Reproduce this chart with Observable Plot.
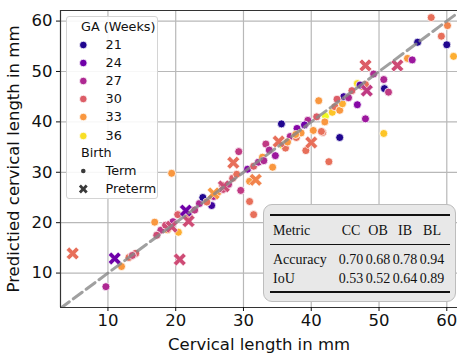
<!DOCTYPE html>
<html><head><meta charset="utf-8">
<script src="https://cdn.jsdelivr.net/npm/d3@7"></script>
<script src="https://cdn.jsdelivr.net/npm/@observablehq/plot@0.6"></script>
<style>
body{margin:0;background:#fff;font-family:"DejaVu Sans",sans-serif}
#wrap{position:relative;width:457px;height:353px;overflow:hidden}
.abs{position:absolute;white-space:nowrap}
#legend{position:absolute;left:66px;top:16px;width:92px;height:183px;border:1px solid #d4d4d4;border-radius:3px;background:rgba(255,255,255,0.88);box-sizing:border-box}
.lg{font-family:"DejaVu Sans",sans-serif;font-size:12.8px;color:#111;line-height:1;transform:translateY(-50%)}
#tbl{position:absolute;left:263px;top:204px;width:193px;height:98px;background:#e8e8e8;border:1.5px solid #bdbdbd;border-radius:9px;box-sizing:border-box}
.tt{font-family:"Liberation Serif",serif;font-size:14px;color:#111;line-height:1;transform:translateY(-50%)}
.tc{transform:translate(-50%,-50%)}
.rule{position:absolute;background:#111}
</style></head><body><div id="wrap"></div>
<script>
// Term births: cervical length (x), predicted (y), GA weeks
const termX=[9.7,12.0,13.1,14.1,13.6,16.9,19.4,18.8,20.4,17.8,18.5,17.2,19.6,20.3,22.0,22.8,23.5,24.0,25.3,24.6,25.6,26.2,26.9,27.8,28.4,29.6,29.3,30.6,30.9,30.9,31.5,31.5,32.2,32.8,33.0,33.3,34.3,34.7,35.8,35.6,36.2,36.9,37.8,37.9,38.5,39.2,39.5,40.3,40.8,41.1,41.7,42.1,43.1,42.6,42.0,43.5,44.2,44.6,44.8,44.2,45.5,46.0,46.8,46.8,47.5,48.0,48.0,47.2,50.7,50.7,50.8,51.4,49.2,54.2,54.9,55.7,57.7,59.2,60.0,60.1,61.0,37.7,41.5,27.0,29.0,33.8,36.5,39.0,43.8];
const termY=[7.3,11.3,13.1,13.9,13.5,20.1,29.8,18.6,18.1,18.5,19.5,17.5,20.2,21.6,21.3,22.5,23.8,25.0,23.4,24.1,25.2,26.0,27.4,27.6,28.8,26.4,34.1,30.6,28.2,24.2,21.6,31.2,32.0,33.0,32.3,35.6,31.0,33.3,35.3,39.6,34.8,37.1,36.9,38.7,37.8,34.3,40.3,38.3,41.0,44.2,37.9,41.1,41.9,32.1,40.0,43.0,42.3,43.6,45.0,36.9,44.8,46.2,43.4,47.6,47.0,47.4,40.6,47.3,37.7,48.4,46.6,45.9,49.5,52.6,52.3,55.8,60.7,57.0,55.3,59.1,53.0,37.5,38.1,26.6,29.6,34.4,36.0,39.4,44.5];
const termGA=[27,33,31,30,29,33,33,33,34,28,29,29,27,30,31,28,27,21,22,31,27,33,30,28,30,28,28,25,33,31,31,30,27,33,27,28,33,26,37,21,31,27,31,25,33,31,27,33,30,33,31,37,35,31,33,31,33,34,22,21,27,30,25,36,32,31,26,23,35,27,21,28,27,33,26,21,31,31,21,32,34,33,31,29,31,27,33,24,30];
// Preterm births
const preX=[4.8,11.0,20.6,21.5,21.9,19.4,28.5,27.1,25.6,35.2,31.8,40.0,48.0,52.7,48.2];
const preY=[13.9,12.9,12.7,22.4,20.3,19.2,31.9,27.2,25.8,36.1,28.5,35.9,51.2,51.2,46.2];
const preGA=[31,24,29,24,29,29,31,29,33,31,32,31,30,29,28];
// Axis ticks, legend and table content
const xTicks=[10,20,30,40,50,60];
const yTicks=[10,20,30,40,50,60];
const legendGA=[21,24,27,30,33,36];
const birthLabels=["Term","Preterm"];
const metricCols=["CC","OB","IB","BL"];
const accuracy=[0.70,0.68,0.78,0.94];
const iou=[0.53,0.52,0.64,0.89];

const term=termX.map((x,i)=>({x,y:termY[i],ga:termGA[i]}));
const pre=preX.map((x,i)=>({x,y:preY[i],ga:preGA[i]}));

function xPath(ctx,r){
  const w=r*0.3,L=r,s=Math.SQRT1_2;
  const pts=[[w,L],[w,w],[L,w],[L,-w],[w,-w],[w,-L],[-w,-L],[-w,-w],[-L,-w],[-L,w],[-w,w],[-w,L]];
  pts.forEach(([u,v],i)=>{const x=(u-v)*s,y=(u+v)*s; i?ctx.lineTo(x,y):ctx.moveTo(x,y);});
  ctx.closePath();
}
const xSymbol={draw(ctx,size){xPath(ctx,Math.sqrt(size/Math.PI));}};

const X0=3, X1=61.58, Y0=3.17, Y1=62.1;
const plot=Plot.plot({
  width:457,height:353,marginLeft:60,marginRight:0,marginTop:10,marginBottom:46,
  style:{fontFamily:"DejaVu Sans",fontSize:"16.5px",color:"#111",background:"white"},
  x:{domain:[X0,X1]},
  y:{domain:[Y0,Y1]},
  color:{type:"linear",scheme:"plasma",domain:[20.5,37]},
  marks:[
    Plot.gridX(xTicks,{stroke:"#b8b8b8",strokeOpacity:1,strokeWidth:1.2}),
    Plot.gridY(yTicks,{stroke:"#b8b8b8",strokeOpacity:1,strokeWidth:1.2}),
    Plot.dot(term,{x:"x",y:"y",fill:"ga",r:4,stroke:"white",strokeWidth:0.8}),
    Plot.dot(pre,{x:"x",y:"y",fill:"ga",r:7,symbol:xSymbol,stroke:"white",strokeWidth:0.6}),
    Plot.line([[X0,X0],[62,62]],{x:d=>d[0],y:d=>d[1],stroke:"#888",strokeOpacity:0.8,strokeWidth:3,strokeDasharray:"11,5",clip:true}),
    Plot.ruleX([X0],{stroke:"#333",strokeWidth:1.2}),
    Plot.ruleY([Y0,Y1],{stroke:"#333",strokeWidth:1.2}),
    Plot.axisX(xTicks,{tickSize:4,tickPadding:3,fontSize:16.5,label:"Cervical length in mm",labelAnchor:"center",labelArrow:"none",labelOffset:42}),
    Plot.axisY(yTicks,{tickSize:4,tickPadding:4,fontSize:16.5,label:"Predictied cervical length in mm",labelAnchor:"center",labelArrow:"none",labelOffset:53})
  ]
});
const wrap=document.getElementById("wrap");
wrap.appendChild(plot);
const color=plot.scale("color");
const cfn=d3.scaleSequential(d3.interpolatePlasma).domain(color.domain);

// Legend
const lg=document.createElement("div");lg.id="legend";wrap.appendChild(lg);
function addText(txt,x,y,cls,extra){const s=document.createElement("span");s.className="abs "+cls;s.textContent=txt;s.style.left=x+"px";s.style.top=y+"px";if(extra)Object.assign(s.style,extra);wrap.appendChild(s);return s;}
const svgNS="http://www.w3.org/2000/svg";
const lsvg=document.createElementNS(svgNS,"svg");
lsvg.setAttribute("width",457);lsvg.setAttribute("height",353);
lsvg.style.position="absolute";lsvg.style.left="0";lsvg.style.top="0";
wrap.appendChild(lsvg);
addText("GA (Weeks)",81,27,"lg");
const rowY=[45,63,81,99,117,136];
legendGA.forEach((g,i)=>{
  const c=document.createElementNS(svgNS,"circle");
  c.setAttribute("cx",83.3);c.setAttribute("cy",rowY[i]);c.setAttribute("r",3.8);
  c.setAttribute("fill",cfn(g));c.setAttribute("stroke","white");c.setAttribute("stroke-width",0.8);
  lsvg.appendChild(c);
  addText(String(g),105.5,rowY[i],"lg");
});
addText("Birth",81,153,"lg");
const d1=document.createElementNS(svgNS,"circle");
d1.setAttribute("cx",83.3);d1.setAttribute("cy",171);d1.setAttribute("r",2.3);d1.setAttribute("fill","#3a3a3a");lsvg.appendChild(d1);
const p=d3.path();xPath(p,4.8);
const d2=document.createElementNS(svgNS,"path");
d2.setAttribute("d",p.toString());d2.setAttribute("transform","translate(83.3,189)");d2.setAttribute("fill","#3a3a3a");lsvg.appendChild(d2);
addText(birthLabels[0],105.5,171,"lg");
addText(birthLabels[1],105.5,189,"lg");

// Table
const tb=document.createElement("div");tb.id="tbl";wrap.appendChild(tb);
function rule(y,h){const r=document.createElement("div");r.className="rule";r.style.left="270px";r.style.width="180px";r.style.top=(y-h/2)+"px";r.style.height=h+"px";wrap.appendChild(r);}
rule(215,1.3);rule(244,0.8);rule(292,1.3);
const colC=[351,378,405,432];
addText("Metric",273,231,"tt");
metricCols.forEach((m,i)=>addText(m,colC[i],231,"tt tc"));
addText("Accuracy",273,260,"tt");
accuracy.forEach((v,i)=>addText(v.toFixed(2),colC[i],260,"tt tc"));
addText("IoU",273,279,"tt");
iou.forEach((v,i)=>addText(v.toFixed(2),colC[i],279,"tt tc"));
</script></body></html>
